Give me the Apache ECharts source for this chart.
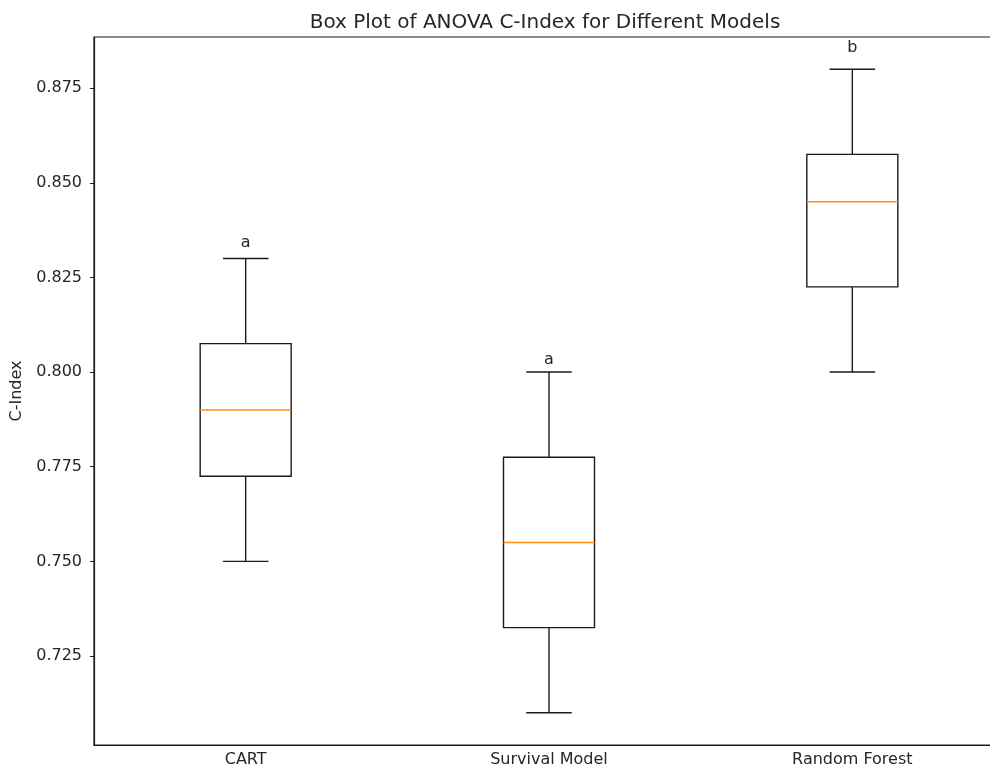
<!DOCTYPE html>
<html>
<head>
<meta charset="utf-8">
<script src="https://cdn.jsdelivr.net/npm/echarts@6/dist/echarts.min.js"></script>
<style>
  html, body { margin: 0; padding: 0; background: #fff; overflow: hidden; }
  #chart { width: 990px; height: 773px; }
</style>
</head>
<body>
<div id="chart"></div>
<script>
// Model names and their C-Index summary statistics
const models = ['CART', 'Survival Model', 'Random Forest'];
const whiskerLow = [0.750, 0.710, 0.800];
const quartile1 = [0.7725, 0.7325, 0.8225];
const medians = [0.790, 0.755, 0.845];
const quartile3 = [0.8075, 0.7775, 0.8575];
const whiskerHigh = [0.830, 0.800, 0.880];
// Post-hoc group letters and the C-Index level at which each letter sits
const groupLetters = ['a', 'a', 'b'];
const letterLevels = [0.8326, 0.8016, 0.8841];
const yTicks = [0.725, 0.750, 0.775, 0.800, 0.825, 0.850, 0.875];

const FONT = 'DejaVu Sans';
const TEXT = '#262626';
const TICK_SIZE = 16;

const boxData = models.map((m, i) => [i, whiskerLow[i], quartile1[i], medians[i], quartile3[i], whiskerHigh[i], letterLevels[i]]);

function renderBox(params, api) {
  const i = api.value(0);
  const band = api.size([1, 0])[0];
  const half = band * 0.3 / 2;
  const capHalf = half / 2;
  const pLow = api.coord([i, api.value(1)]);
  const pQ1 = api.coord([i, api.value(2)]);
  const pMed = api.coord([i, api.value(3)]);
  const pQ3 = api.coord([i, api.value(4)]);
  const pHigh = api.coord([i, api.value(5)]);
  const pLetter = api.coord([i, api.value(6)]);
  const cx = pMed[0];
  const line = { stroke: '#1a1a1a', lineWidth: 1.4 };
  return {
    type: 'group',
    children: [
      { type: 'rect', shape: { x: cx - half, y: pQ3[1], width: half * 2, height: pQ1[1] - pQ3[1] },
        style: { fill: 'none', stroke: '#1a1a1a', lineWidth: 1.4 } },
      { type: 'line', shape: { x1: cx, y1: pQ1[1], x2: cx, y2: pLow[1] }, style: line },
      { type: 'line', shape: { x1: cx, y1: pQ3[1], x2: cx, y2: pHigh[1] }, style: line },
      { type: 'line', shape: { x1: cx - capHalf, y1: pLow[1], x2: cx + capHalf, y2: pLow[1] }, style: line },
      { type: 'line', shape: { x1: cx - capHalf, y1: pHigh[1], x2: cx + capHalf, y2: pHigh[1] }, style: line },
      { type: 'line', shape: { x1: cx - half, y1: pMed[1], x2: cx + half, y2: pMed[1] },
        style: { stroke: '#ff8c1a', lineWidth: 1.4 } },
      // letter baseline at its level; the text box bottom sits a little below it
      { type: 'text', style: { x: cx, y: pLetter[1] + 2, text: groupLetters[i], align: 'center', verticalAlign: 'bottom',
        fill: TEXT, font: TICK_SIZE + 'px "' + FONT + '"' } }
    ]
  };
}

const chart = echarts.init(document.getElementById('chart'), null, { renderer: 'canvas' });
chart.setOption({
  backgroundColor: '#fff',
  animation: false,
  title: {
    text: 'Box Plot of ANOVA C-Index for Different Models',
    left: 540, top: 8, textAlign: 'center',
    textStyle: { fontFamily: FONT, fontSize: 20, fontWeight: 'normal', color: TEXT }
  },
  grid: {
    left: 94, top: 37, width: 910, height: 708,
    outerBoundsMode: 'none', containLabel: false,
    show: true, borderColor: '#1a1a1a', borderWidth: 1.2
  },
  xAxis: {
    type: 'category',
    data: models,
    boundaryGap: true,
    axisLine: { lineStyle: { color: '#1a1a1a', width: 1.2 } },
    axisTick: { alignWithLabel: true, length: 4, lineStyle: { color: '#1a1a1a' } },
    axisLabel: { margin: 7, fontFamily: FONT, fontSize: TICK_SIZE, color: TEXT },
    splitLine: { show: false }
  },
  yAxis: {
    type: 'value',
    min: 0.7015, max: 0.8885,
    name: 'C-Index',
    nameLocation: 'middle',
    nameGap: 62,
    nameRotate: 90,
    nameTextStyle: { fontFamily: FONT, fontSize: TICK_SIZE, color: TEXT },
    axisLine: { show: true, lineStyle: { color: '#1a1a1a', width: 1.2 } },
    axisTick: { show: true, length: 4, customValues: yTicks, lineStyle: { color: '#1a1a1a' } },
    axisLabel: { margin: 12, fontFamily: FONT, fontSize: TICK_SIZE, color: TEXT, customValues: yTicks,
      formatter: v => v.toFixed(3) },
    splitLine: { show: false }
  },
  series: [{
    type: 'custom',
    renderItem: renderBox,
    data: boxData,
    encode: { x: 0, y: [1, 2, 3, 4, 5] },
    clip: false
  }]
});
</script>
</body>
</html>
